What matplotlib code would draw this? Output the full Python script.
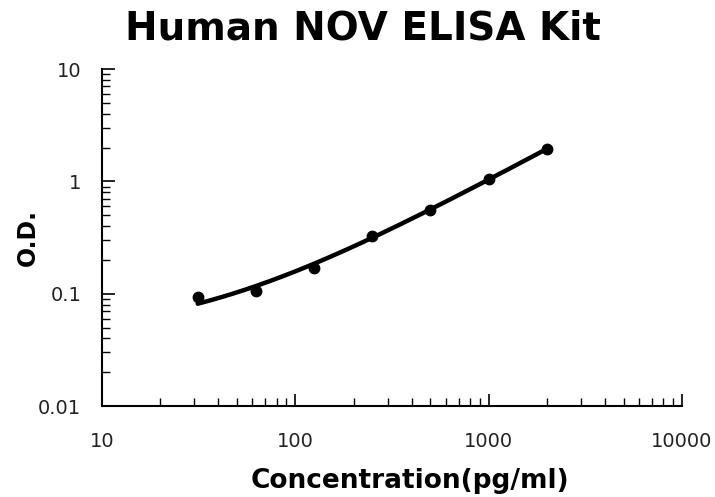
import numpy as np
import matplotlib
matplotlib.use("Agg")
import matplotlib.pyplot as plt
from matplotlib.ticker import LogLocator, FixedLocator, FixedFormatter, NullFormatter

conc = [31.25, 62.5, 125, 250, 500, 1000, 2000]
od = [0.094, 0.106, 0.171, 0.329, 0.562, 1.06, 1.93]

x_ticks = [10, 100, 1000, 10000]
x_labels = ["10", "100", "1000", "10000"]
y_ticks = [0.01, 0.1, 1, 10]
y_labels = ["0.01", "0.1", "1", "10"]

plt.rcParams["font.family"] = ["DejaVu Sans"]


def fit_curve(x, y):
    """Weighted least squares fit of y = a + k * x**b, b by grid search."""
    x, y = np.asarray(x, float), np.asarray(y, float)
    w = 1.0 / np.sqrt(y)
    best = None
    for b in np.linspace(0.3, 1.5, 241):
        A = np.column_stack([np.ones_like(x), x ** b])
        sol, *_ = np.linalg.lstsq(A * w[:, None], y * w, rcond=None)
        sse = (((A @ sol - y) * w) ** 2).sum()
        if best is None or sse < best[0]:
            best = (sse, sol[0], sol[1], b)
    _, a, k, b = best
    return lambda t: a + k * t ** b


fig = plt.figure(figsize=(7.15, 4.97), dpi=100)
ax = fig.add_axes([0.1427, 0.183, 0.811, 0.678])

f = fit_curve(conc, od)
xs = np.logspace(np.log10(conc[0]), np.log10(conc[-1]), 150)
ax.plot(xs, f(xs), color="black", lw=3.2, solid_capstyle="round")
ax.plot(conc, od, "o", color="black", ms=7.5)

ax.set_xscale("log")
ax.set_yscale("log")
ax.set_xlim(10, 10000)
ax.set_ylim(0.01, 10)

ax.xaxis.set_major_locator(FixedLocator(x_ticks))
ax.xaxis.set_major_formatter(FixedFormatter(x_labels))
ax.yaxis.set_major_locator(FixedLocator(y_ticks))
ax.yaxis.set_major_formatter(FixedFormatter(y_labels))
ax.xaxis.set_minor_locator(LogLocator(base=10, subs=np.arange(2, 10)))
ax.yaxis.set_minor_locator(LogLocator(base=10, subs=np.arange(2, 10)))
ax.xaxis.set_minor_formatter(NullFormatter())
ax.yaxis.set_minor_formatter(NullFormatter())

ax.tick_params(which="major", direction="in", length=9, width=1.2, labelsize=14,
               labelcolor="#222222")
ax.tick_params(which="minor", direction="in", length=5.5, width=1)
ax.tick_params(axis="x", which="major", pad=19)
ax.tick_params(axis="y", which="major", pad=15)

for s in ["top", "right"]:
    ax.spines[s].set_visible(False)
for s in ["left", "bottom"]:
    ax.spines[s].set_linewidth(1.5)

ax.set_xlabel("Concentration(pg/ml)", fontsize=19, fontweight="bold", labelpad=12)
ax.xaxis.label.set_x(0.531)
ax.set_ylabel("O.D.", fontsize=17, fontweight="bold", labelpad=-1)
fig.suptitle("Human NOV ELISA Kit", fontsize=28, fontweight="bold", x=0.508, y=0.98)

fig.savefig("out.png", dpi=100)
